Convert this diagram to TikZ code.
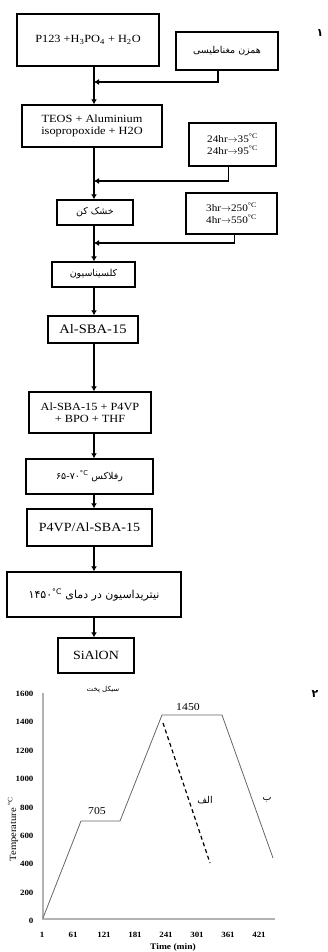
\documentclass[tikz,border=0pt]{standalone}
\usepackage{fontspec}
\setmainfont{Liberation Serif}[FakeStretch=1.12]
\newfontfamily\fa[Script=Arabic]{DejaVu Sans}
\TeXXeTstate=1
\usetikzlibrary{arrows.meta}

\begin{document}
\begin{tikzpicture}[x=1pt,y=-1pt,
	box/.style={draw,line width=1.4pt,align=center,inner sep=0pt},
	link/.style={line width=1.1pt,-{Latex[length=5pt,width=6pt]}},
	curve/.style={draw=black!60,line width=0.8pt},
	tick/.style={font=\fontsize{8}{9}\selectfont\bfseries},
	fatext/.style={font=\fontsize{9.5}{11}\selectfont\fa}]
	\useasboundingbox (0,0) rectangle (327,952);
	\coordinate (spine) at (94,0);
	\node[box,minimum width=142pt,minimum height=52pt,font=\fontsize{11}{12}\selectfont] (p123) at (88,40) {P123 +H\textsubscript{3}PO\textsubscript{4} + H\textsubscript{2}O};
	\node[box,fatext,minimum width=102pt,minimum height=38pt] (stirrer) at (227,51) {\beginR همزن مغناطیسی\endR};
	\node[box,minimum width=140pt,minimum height=42pt,font=\fontsize{11}{12}\selectfont] (teos) at (92,126) {TEOS + Aluminium\\isopropoxide + H2O};
	\node[box,minimum width=87pt,minimum height=43pt,font=\fontsize{10}{12}\selectfont] (aging) at (232.5,144.5) {24hr$\rightarrow$35\textsuperscript{°C}\\24hr$\rightarrow$95\textsuperscript{°C}};
	\node[box,fatext,minimum width=76pt,minimum height=25pt] (dryer) at (95,212.5) {\beginR خشک کن\endR};
	\node[box,minimum width=91pt,minimum height=41pt,font=\fontsize{10}{12}\selectfont] (heat) at (231.5,213.5) {3hr$\rightarrow$250\textsuperscript{°C}\\4hr$\rightarrow$550\textsuperscript{°C}};
	\node[box,fatext,minimum width=83pt,minimum height=25pt] (calcination) at (93.5,274.5) {\beginR کلسیناسیون\endR};
	\node[box,minimum width=90pt,minimum height=27pt,font=\fontsize{13}{14}\selectfont] (alsba) at (93,329.5) {Al-SBA-15};
	\node[box,minimum width=122pt,minimum height=41pt,font=\fontsize{11}{12}\selectfont] (mix) at (90,412.5) {Al-SBA-15 + P4VP\\+ BPO + THF};
	\node[box,fatext,minimum width=127pt,minimum height=35pt] (reflux) at (89.5,476.5) {\beginR رفلاکس \beginL ۶۵-۷۰\textsuperscript{°C}\endL\endR};
	\node[box,minimum width=125pt,minimum height=37pt,font=\fontsize{12.5}{14}\selectfont] (composite) at (89.5,527.5) {P4VP/Al-SBA-15};
	\node[box,minimum width=174pt,minimum height=45pt,font=\fontsize{11}{12}\selectfont\fa] (nitridation) at (94,594.5) {\beginR نیتریداسیون در دمای \beginL ۱۴۵۰\textsuperscript{°C}\endL\endR};
	\node[box,minimum width=76pt,minimum height=35pt,font=\fontsize{12.5}{14}\selectfont] (sialon) at (96,655.5) {SiAlON};
	\node[font=\fontsize{11}{12}\selectfont\fa\bfseries] (one) at (320,33) {۱};
	% joins of the side steps
	\coordinate (j1) at (94,82);
	\coordinate (j2) at (94,181);
	\coordinate (j3) at (94,243);
	\draw[link] ([xshift=-9pt]stirrer.south) |- (j1);
	\draw[link] ([xshift=-4pt]aging.south) |- (j2);
	\draw[link] ([xshift=3pt]heat.south) |- (j3);
	\foreach \a/\b in {p123/teos,teos/dryer,dryer/calcination,calcination/alsba,alsba/mix,mix/reflux,reflux/composite,composite/nitridation,nitridation/sialon}
		\draw[link] (\a.south -| spine) -- (\b.north -| spine);
	% firing cycle
	\draw[black!30,line width=1.6pt] (43,693) -- (43,919) -- (275,919);
	\foreach \v in {0,200,...,1600}
		\node[tick,anchor=east] at (37,{921-\v*0.142}) {\v};
	\foreach \t [count=\i from 0] in {1,61,121,181,241,301,361,421}
		\node[tick] at ({42+\i*31},935) {\t};
	\draw[curve] (43,918) -- (81,821) -- (120,821) -- (162,715) -- (222,715) -- (273,858);
	\draw[line width=1.2pt,dash pattern=on 4pt off 3pt] (163,723) -- (210,863);
	\node[font=\fontsize{10.5}{12}\selectfont] (low) at (97,811) {705};
	\node[font=\fontsize{10.5}{12}\selectfont] (high) at (188,707) {1450};
	\node[fatext] (alef) at (205,800) {الف};
	\node[fatext] (be) at (267,800) {ب};
	\node[font=\fontsize{7}{8}\selectfont\fa] (title) at (103,690) {\beginR سیکل پخت\endR};
	\node[font=\fontsize{11}{12}\selectfont\fa\bfseries] (two) at (315,694) {۲};
	\node[rotate=90,font=\fontsize{9.5}{11}\selectfont] (ylabel) at (13,829) {Temperature \textsuperscript{°C}};
	\node[anchor=south,inner sep=1pt,font=\fontsize{8.5}{9}\selectfont\bfseries] (xlabel) at (173,952) {Time (min)};
\end{tikzpicture}
\end{document}
